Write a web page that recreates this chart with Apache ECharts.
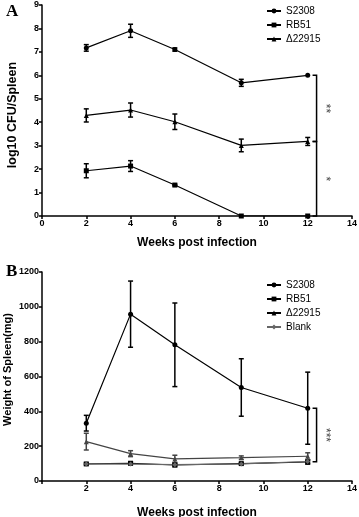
<!DOCTYPE html>
<html>
<head>
<meta charset="utf-8">
<script src="https://cdn.jsdelivr.net/npm/echarts@6/dist/echarts.min.js"></script>
<style>
  html, body { margin: 0; padding: 0; background: #fff; }
  #chart { width: 359px; height: 517px; }
</style>
</head>
<body>
<div id="chart"></div>
<script>
// weeks post infection
var weeks = [2, 4, 6, 9, 12];

// panel A: log10 CFU/Spleen
var s2308A = [7.17, 7.90, 7.10, 5.68, 6.00];
var s2308AErr = [0.14, 0.28, 0.07, 0.15, 0];
var rb51A = [1.93, 2.13, 1.32, 0, 0];
var rb51AErr = [0.30, 0.23, 0.03, 0, 0];
var d22915A = [4.29, 4.52, 4.02, 3.01, 3.18];
var d22915AErr = [0.28, 0.30, 0.33, 0.27, 0.17];

// panel B: weight of spleen (mg)
var s2308B = [332, 958, 782, 537, 418];
var s2308BErr = [45, 190, 240, 165, 207];
var rb51B = [98, 102, 92, 100, 109];
var rb51BErr = [5, 8, 10, 5, 12];
var d22915B = [226, 157, 127, 134, 142];
var d22915BErr = [48, 17, 21, 10, 20];
var blankB = [98, 97, 94, 98, 112];
var blankBErr = [4, 4, 4, 4, 10];

// significance brackets: [x, yTop, yBottom, label]
var bracketsA = [[12.4, 6.0, 3.18, '**'], [12.4, 3.18, 0, '*']];
var bracketsB = [[12.4, 418, 110, '***']];

var FONT = 'Liberation Sans, Arial, sans-serif';

function pairs(vals) {
    return weeks.map(function (w, i) { return [w, vals[i]]; });
}

function errData(vals, errs) {
    return weeks.map(function (w, i) { return [w, vals[i] - errs[i], vals[i] + errs[i]]; });
}

function renderErr(params, api) {
    var lo = api.coord([api.value(0), api.value(1)]);
    var hi = api.coord([api.value(0), api.value(2)]);
    if (Math.abs(lo[1] - hi[1]) < 1) return null;
    var w = 2.5;
    var style = { stroke: api.visual('color'), lineWidth: 1.5 };
    return {
        type: 'group',
        children: [
            { type: 'line', shape: { x1: lo[0], y1: lo[1], x2: hi[0], y2: hi[1] }, style: style },
            { type: 'line', shape: { x1: lo[0] - w, y1: lo[1], x2: lo[0] + w, y2: lo[1] }, style: style },
            { type: 'line', shape: { x1: hi[0] - w, y1: hi[1], x2: hi[0] + w, y2: hi[1] }, style: style }
        ]
    };
}

function renderBracket(params, api) {
    var top = api.coord([api.value(0), api.value(1)]);
    var bot = api.coord([api.value(0), api.value(2)]);
    var stub = 4;
    return {
        type: 'group',
        children: [
            {
                type: 'polyline',
                shape: { points: [[top[0] - stub, top[1]], [top[0], top[1]], [bot[0], bot[1]], [bot[0] - stub, bot[1]]] },
                style: { stroke: '#000', lineWidth: 1.5, fill: null }
            },
            {
                type: 'text',
                x: top[0] + 9,
                y: (top[1] + bot[1]) / 2,
                rotation: -Math.PI / 2,
                style: {
                    text: api.value(3), fill: '#444', fontSize: 12, fontFamily: FONT,
                    align: 'center', verticalAlign: 'middle'
                }
            }
        ]
    };
}

function lineSeries(name, vals, symbol, color, idx) {
    return {
        name: name, type: 'line', xAxisIndex: idx, yAxisIndex: idx,
        data: pairs(vals), symbol: symbol, symbolSize: 5,
        itemStyle: { color: color }, lineStyle: { color: color, width: 1.2 },
        z: 3
    };
}

function errSeries(vals, errs, color, idx) {
    return {
        type: 'custom', xAxisIndex: idx, yAxisIndex: idx,
        data: errData(vals, errs), renderItem: renderErr,
        itemStyle: { color: color }, encode: { x: 0, y: [1, 2] }, z: 2
    };
}

function bracketSeries(data, idx) {
    return {
        type: 'custom', xAxisIndex: idx, yAxisIndex: idx,
        data: data, renderItem: renderBracket,
        encode: { x: 0, y: [1, 2] }, z: 2
    };
}

function xAxis(idx) {
    return {
        type: 'value', gridIndex: idx, min: 0, max: 14, interval: 2,
        name: 'Weeks post infection', nameLocation: 'middle', nameGap: idx === 0 ? 21 : 26,
        nameMoveOverlap: false,
        nameTextStyle: { fontSize: 12, fontWeight: 'bold', fontFamily: FONT, color: '#000' },
        axisLine: { lineStyle: { color: '#000', width: 1.5 } },
        axisTick: { length: 3, lineStyle: { color: '#000', width: 1.5 } },
        axisLabel: {
            fontSize: 9, fontWeight: 'bold', fontFamily: FONT, color: '#000', margin: 3,
            formatter: function (v) { return (idx === 1 && v === 0) ? '' : String(v); }
        },
        splitLine: { show: false }
    };
}

function yAxis(idx, max, interval, name, gap, size, pad) {
    return {
        type: 'value', gridIndex: idx, min: 0, max: max, interval: interval,
        name: name, nameLocation: 'middle', nameGap: gap, nameMoveOverlap: false,
        nameTextStyle: { fontSize: size, fontWeight: 'bold', fontFamily: FONT, color: '#000', padding: pad },
        axisLine: { show: true, lineStyle: { color: '#000', width: 1.5 } },
        axisTick: { show: true, length: 3, lineStyle: { color: '#000', width: 1.5 } },
        axisLabel: {
            fontSize: 9, fontWeight: 'bold', fontFamily: FONT, color: '#000', margin: 3,
            formatter: function (v) { return String(v); }
        },
        splitLine: { show: false }
    };
}

var legendText = { fontSize: 10, fontFamily: FONT, color: '#000' };

var option = {
    animation: false,
    title: [
        { text: 'A', left: 1, top: -2, textStyle: { fontSize: 17, fontWeight: 'bold', fontFamily: 'Liberation Serif, serif', color: '#000' } },
        { text: 'B', left: 1, top: 258, textStyle: { fontSize: 17, fontWeight: 'bold', fontFamily: 'Liberation Serif, serif', color: '#000' } }
    ],
    legend: [
        {
            data: ['S2308', 'RB51', '\u039422915'], orient: 'vertical', left: 266, top: 6,
            itemWidth: 14, itemHeight: 6, itemGap: 4, textStyle: legendText, padding: 0
        },
        {
            data: ['S2308', 'RB51', '\u039422915', 'Blank'], orient: 'vertical', left: 266, top: 280,
            itemWidth: 14, itemHeight: 6, itemGap: 4, textStyle: legendText, padding: 0
        }
    ],
    grid: [
        { left: 42, right: 7, top: 5, height: 211, outerBoundsMode: 'none' },
        { left: 42, right: 7, top: 272, height: 209, outerBoundsMode: 'none' }
    ],
    xAxis: [xAxis(0), xAxis(1)],
    yAxis: [
        yAxis(0, 9, 1, 'log10 CFU/Spleen', 23, 12.5, [0, 9, 0, 0]),
        yAxis(1, 1200, 200, 'Weight of Spleen(mg)', 28.5, 11, [0, 0, 0, 14])
    ],
    series: [
        lineSeries('S2308', s2308A, 'circle', '#000', 0),
        lineSeries('RB51', rb51A, 'rect', '#000', 0),
        lineSeries('\u039422915', d22915A, 'triangle', '#000', 0),
        errSeries(s2308A, s2308AErr, '#000', 0),
        errSeries(rb51A, rb51AErr, '#000', 0),
        errSeries(d22915A, d22915AErr, '#000', 0),
        bracketSeries(bracketsA, 0),

        lineSeries('S2308', s2308B, 'circle', '#000', 1),
        lineSeries('RB51', rb51B, 'rect', '#000', 1),
        lineSeries('\u039422915', d22915B, 'triangle', '#444', 1),
        lineSeries('Blank', blankB, 'diamond', '#666', 1),
        errSeries(s2308B, s2308BErr, '#000', 1),
        errSeries(rb51B, rb51BErr, '#000', 1),
        errSeries(d22915B, d22915BErr, '#444', 1),
        errSeries(blankB, blankBErr, '#666', 1),
        bracketSeries(bracketsB, 1)
    ]
};

var chart = echarts.init(document.getElementById('chart'), null, { renderer: 'canvas' });
chart.setOption(option);
</script>
</body>
</html>
